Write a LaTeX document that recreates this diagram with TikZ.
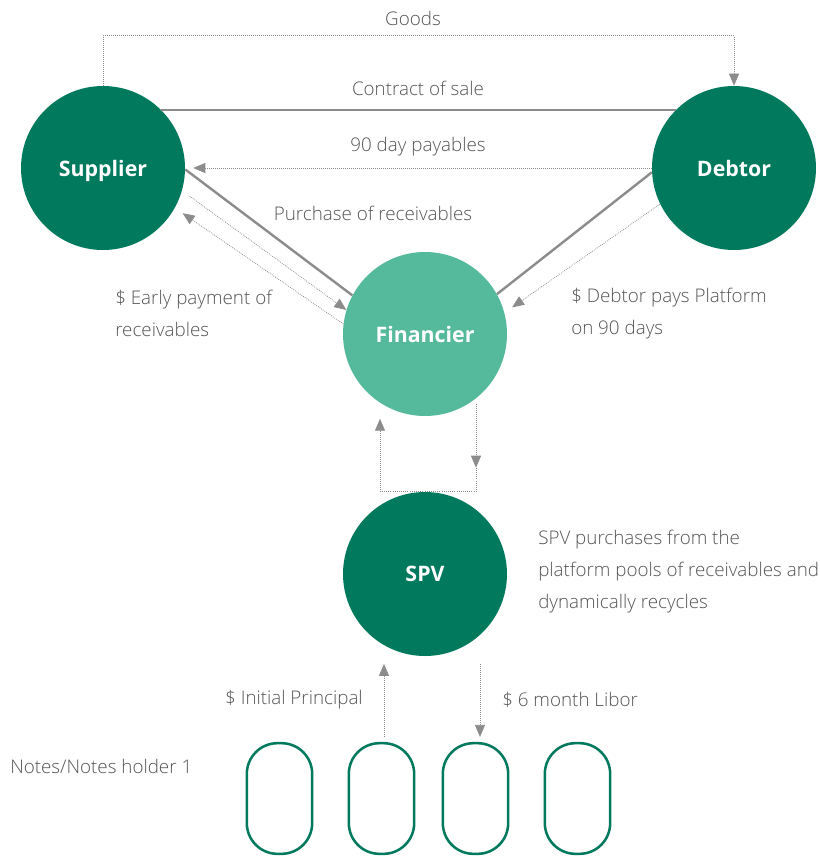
\documentclass[tikz,border=0pt]{standalone}
\usepackage{fontspec}
\setmainfont{Open Sans}
\newfontfamily\lightfont{Open Sans Light}
\usetikzlibrary{arrows.meta,calc}
\definecolor{dkgreen}{HTML}{00795D}
\definecolor{ltgreen}{HTML}{55B99B}
\definecolor{lngray}{HTML}{8C8C8C}
\definecolor{txgray}{HTML}{555555}
\begin{document}
\begin{tikzpicture}[x=0.75pt,y=-0.75pt,
  party/.style={circle,minimum size=123pt,inner sep=0pt,text=white,text depth=0pt,font=\fontsize{16}{18}\selectfont\bfseries},
  holder/.style={draw=dkgreen,line width=1.9pt,rounded corners=23pt,minimum width=49pt,minimum height=83pt,inner sep=0pt},
  lbl/.style={text=txgray,font=\lightfont\fontsize{14.1}{23.5}\selectfont,inner sep=0pt},
  solidln/.style={draw=lngray,line width=1.8pt},
  dotln/.style={draw=lngray,line width=0.6pt,densely dotted},
  arr/.style={dotln,-{Triangle[length=9pt,width=7.5pt,fill=lngray]},solid,dash pattern=on 0.6pt off 0.9pt},
]
\useasboundingbox (0,0) rectangle (819,858);
% parties
\node[party,fill=dkgreen] (sup) at (103,168) {Supplier};
\node[party,fill=dkgreen] (deb) at (734,168) {Debtor};
\node[party,fill=ltgreen] (fin) at (425,334) {Financier};
\node[party,fill=dkgreen] (spv) at (425,574) {SPV};
% holders
\node[holder] (n1) at (279.5,798.5) {};
\node[holder] (n2) at (381.5,798.5) {};
\node[holder] (n3) at (475.5,798.5) {};
\node[holder] (n4) at (577.5,798.5) {};
% Goods
\draw[arr] (sup.north) -- ++(0,-50) -| (deb.north);
\node[lbl] (tgoods) at (413,18) {Goods};
% contract of sale
\draw[solidln] (sup.45) -- (deb.135);
\node[lbl] (tcontract) at (418,88) {Contract of sale};
% 90 day payables
\draw[arr,shorten >=6pt] (deb.west) -- (sup.east);
\node[lbl] (tpay) at (418,147) {90 day payables};
% purchase of receivables
\draw[solidln] (sup.-1) -- (fin.152);
\draw[solidln] (deb.183) -- (fin.29);
\node[lbl] (tpurch) at (373,213) {Purchase of receivables};
% early payment
\draw[arr,shorten <=7pt] (sup.-16) -- (fin.163);
\draw[arr,shorten >=7pt] (fin.173) -- (sup.-29);
\node[lbl,anchor=west,align=left] (tearly) at (115,313.5) {\$ Early payment of\\receivables};
% debtor pays
\draw[arr,shorten >=7pt] (deb.206) -- (fin.15);
\node[lbl,anchor=west,align=left] (tdebt) at (571,313.5) {\$ Debtor pays Platform\\on 90 days};
% financier - spv loop
\coordinate (lr) at ($(spv.north)+(51,0)$);
\coordinate (ll) at ($(spv.north)+(-45,0)$);
\coordinate (lrtop) at ($(lr)+(0,-88)$);
\coordinate (lrmid) at ($(lr)+(0,-24)$);
\draw[dotln] (lrmid) -- (lr) -- (ll);
\draw[arr] (lrtop) -- (lrmid);
\draw[arr] (ll) -- ++(0,-73);
\node[lbl,anchor=west,align=left,font=\lightfont\fontsize{14.1}{24}\selectfont] (tspv) at (538,571.5) {SPV purchases from the\\platform pools of receivables and\\dynamically recycles};
% spv - holders
\coordinate (upb) at ($(n2.north)+(2.5,-5)$);
\draw[arr] (upb) -- ++(0,-73);
\coordinate (dnb) at ($(n3.north)+(4.5,-78)$);
\draw[arr] (dnb) -- ++(0,73);
\node[lbl,anchor=east] (tinit) at (363,700) {\$ Initial Principal};
\node[lbl,anchor=west] (tlibor) at (502,700) {\$ 6 month Libor};
\node[lbl,anchor=west] (tnotes) at (10,766) {Notes/Notes holder 1};
\end{tikzpicture}
\end{document}
